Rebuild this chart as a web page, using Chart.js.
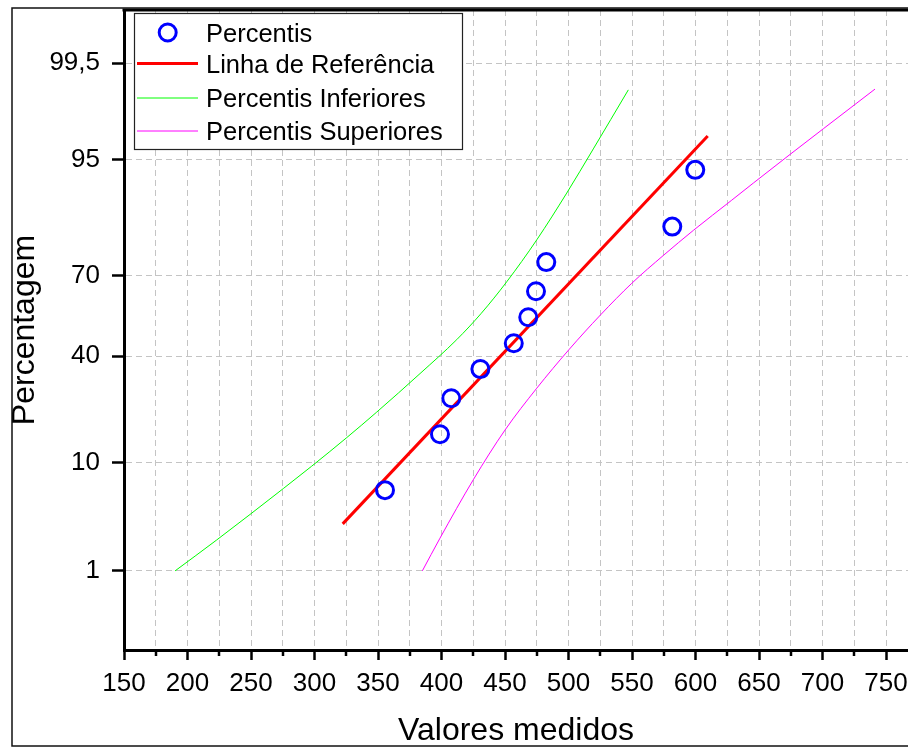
<!DOCTYPE html>
<html>
<head>
<meta charset="utf-8">
<title>Probabilidade normal</title>
<script src="https://cdn.jsdelivr.net/npm/chart.js@4/dist/chart.umd.min.js"></script>
<style>
  html, body { margin: 0; padding: 0; background: #fff; overflow: hidden; }
  canvas { display: block; }
</style>
</head>
<body>
<canvas id="c" width="908" height="747"></canvas>
<script>
// ---------------- data ----------------
const seriesLabels = ['Percentis', 'Linha de Referência', 'Percentis Inferiores', 'Percentis Superiores'];

const xMajorTicks = [150, 200, 250, 300, 350, 400, 450, 500, 550, 600, 650, 700, 750];
const xMinorTicks = [175, 225, 275, 325, 375, 425, 475, 525, 575, 625, 675, 725];
const yTickValues = [1, 10, 40, 70, 95, 99.5];
const yTickLabels = ['1', '10', '40', '70', '95', '99,5'];

const percentisX = [355.5, 398.8, 407.7, 430.6, 456.9, 468.3, 474.4, 482.5, 581.7, 599.8];
const percentisY = [6.1, 15.7, 25.5, 35.3, 44.9, 54.9, 64.6, 74.4, 84.1, 93.9];

const referenciaX = [322.2, 609.6];
const referenciaY = [3.06, 96.95];

const inferioresX = [190.2, 223.0, 275.4, 297.7, 325.4, 349.0, 383.1, 412.0, 431.3, 451.3, 475.0, 498.6, 519.5, 547.1];
const inferioresY = [1.0, 2.13, 6.28, 9.41, 14.94, 21.4, 33.7, 46.3, 56.4, 67.9, 80.8, 90.7, 95.98, 98.98];

const superioresX = [384.9, 398.8, 425.0, 450.0, 475.0, 500.2, 525.2, 549.8, 574.6, 598.3, 628.5, 645.5, 674.4, 700.6, 741.3];
const superioresY = [1.0, 2.22, 7.4, 16.7, 28.7, 42.4, 55.8, 67.4, 76.4, 83.2, 89.5, 92.2, 95.5, 97.4, 99.0];

// ---------------- probability (probit) axis ----------------
function probit(p) {
  const a = [-3.969683028665376e+01, 2.209460984245205e+02, -2.759285104469687e+02, 1.383577518672690e+02, -3.066479806614716e+01, 2.506628277459239e+00];
  const b = [-5.447609879822406e+01, 1.615858368580409e+02, -1.556989798598866e+02, 6.680131188771972e+01, -1.328068155288572e+01];
  const c = [-7.784894002430293e-03, -3.223964580411365e-01, -2.400758277161838e+00, -2.549732539343734e+00, 4.374664141464968e+00, 2.938163982698783e+00];
  const d = [7.784695709041462e-03, 3.224671290700398e-01, 2.445134137142996e+00, 3.754408661907416e+00];
  const pl = 0.02425, ph = 1 - pl;
  if (p < pl) {
    const q = Math.sqrt(-2 * Math.log(p));
    return (((((c[0]*q+c[1])*q+c[2])*q+c[3])*q+c[4])*q+c[5]) / ((((d[0]*q+d[1])*q+d[2])*q+d[3])*q+1);
  }
  if (p <= ph) {
    const q = p - 0.5, r = q * q;
    return (((((a[0]*r+a[1])*r+a[2])*r+a[3])*r+a[4])*r+a[5])*q / (((((b[0]*r+b[1])*r+b[2])*r+b[3])*r+b[4])*r+1);
  }
  const q = Math.sqrt(-2 * Math.log(1 - p));
  return -(((((c[0]*q+c[1])*q+c[2])*q+c[3])*q+c[4])*q+c[5]) / ((((d[0]*q+d[1])*q+d[2])*q+d[3])*q+1);
}
function normCdf(z) {
  const t = 1 / (1 + 0.2316419 * Math.abs(z));
  const y = t * (0.319381530 + t * (-0.356563782 + t * (1.781477937 + t * (-1.821255978 + t * 1.330274429))));
  const p = 1 - Math.exp(-z * z / 2) / Math.sqrt(2 * Math.PI) * y;
  return z >= 0 ? p : 1 - p;
}

class ProbitScale extends Chart.LinearScale {
  determineDataLimits() {
    this.min = this.options.min;
    this.max = this.options.max;
  }
  buildTicks() {
    this.start = this.min;
    this.end = this.max;
    return yTickValues.map(v => ({ value: v }));
  }
  configure() {
    super.configure();
    this._zMin = probit(this.min / 100);
    this._zMax = probit(this.max / 100);
  }
  getPixelForValue(value) {
    const z = probit(value / 100);
    return this.getPixelForDecimal((z - this._zMin) / (this._zMax - this._zMin));
  }
  getValueForPixel(pixel) {
    const dec = this.getDecimalForPixel(pixel);
    return normCdf(this._zMin + dec * (this._zMax - this._zMin)) * 100;
  }
}
ProbitScale.id = 'probit';
ProbitScale.defaults = {};
Chart.register(ProbitScale);

// ---------------- chart ----------------
const FONT = "'Liberation Sans', Arial, Helvetica, sans-serif";
const toPoints = (xs, ys) => xs.map((x, i) => ({ x: x, y: ys[i] }));

const decor = {
  id: 'decor',
  beforeDraw(chart) {
    const ctx = chart.ctx;
    ctx.save();
    ctx.fillStyle = '#fff';
    ctx.fillRect(0, 0, chart.width, chart.height);
    ctx.restore();
  },
  afterDraw(chart) {
    const ctx = chart.ctx, a = chart.chartArea, xs = chart.scales.x;
    ctx.save();
    // minor tick marks on x axis
    ctx.strokeStyle = '#000';
    ctx.lineWidth = 2.5;
    xs.ticks.forEach(t => {
      if (xMinorTicks.includes(t.value)) {
        const px = Math.round(xs.getPixelForValue(t.value));
        ctx.beginPath();
        ctx.moveTo(px, a.bottom);
        ctx.lineTo(px, a.bottom + 6);
        ctx.stroke();
      }
    });
    // top frame of the plot
    ctx.lineWidth = 3;
    ctx.beginPath();
    ctx.moveTo(a.left - 1.5, a.top);
    ctx.lineTo(a.right, a.top);
    ctx.stroke();
    // outer frame
    ctx.lineWidth = 1.5;
    ctx.strokeStyle = '#111';
    ctx.strokeRect(12, 8, chart.width + 20, 738);

    // legend
    const lx = 134, ly = 13, lw = 328, lh = 136;
    ctx.fillStyle = '#fff';
    ctx.fillRect(lx, ly, lw, lh);
    ctx.strokeStyle = '#222';
    ctx.lineWidth = 1.2;
    ctx.strokeRect(lx + 0.5, ly + 0.5, lw, lh);
    const symY = [32.5, 63.5, 98, 131];
    const baseY = [41.7, 73.3, 107.3, 140];
    chart.data.datasets.forEach((ds, i) => {
      ctx.save();
      if (i === 0) {
        ctx.strokeStyle = ds.pointBorderColor;
        ctx.lineWidth = ds.pointBorderWidth;
        ctx.beginPath();
        ctx.arc(167.7, symY[i], ds.pointRadius, 0, Math.PI * 2);
        ctx.stroke();
      } else {
        ctx.strokeStyle = ds.borderColor;
        ctx.lineWidth = ds.borderWidth;
        ctx.beginPath();
        ctx.moveTo(137, symY[i]);
        ctx.lineTo(198, symY[i]);
        ctx.stroke();
      }
      ctx.fillStyle = '#000';
      ctx.font = '25.5px ' + FONT;
      ctx.textBaseline = 'alphabetic';
      ctx.textAlign = 'left';
      ctx.fillText(ds.label, 206, baseY[i]);
      ctx.restore();
    });
    ctx.restore();
  }
};

new Chart(document.getElementById('c'), {
  type: 'scatter',
  data: {
    datasets: [
      {
        label: seriesLabels[0],
        data: toPoints(percentisX, percentisY),
        showLine: false,
        pointStyle: 'circle',
        pointRadius: 8.5,
        pointBorderWidth: 3,
        pointBorderColor: '#0000ff',
        pointBackgroundColor: 'rgba(0,0,0,0)'
      },
      {
        label: seriesLabels[1],
        data: toPoints(referenciaX, referenciaY),
        showLine: true,
        borderColor: '#ff0000',
        borderWidth: 3,
        pointRadius: 0
      },
      {
        label: seriesLabels[2],
        data: toPoints(inferioresX, inferioresY),
        showLine: true,
        borderColor: '#00ff00',
        borderWidth: 1,
        pointRadius: 0,
        cubicInterpolationMode: 'monotone'
      },
      {
        label: seriesLabels[3],
        data: toPoints(superioresX, superioresY),
        showLine: true,
        borderColor: '#ff00ff',
        borderWidth: 1,
        pointRadius: 0,
        cubicInterpolationMode: 'monotone'
      }
    ]
  },
  options: {
    responsive: false,
    animation: false,
    events: [],
    layout: { autoPadding: false, padding: { left: 9, top: 10, right: 0, bottom: 0 } },
    plugins: { legend: { display: false }, tooltip: { enabled: false } },
    scales: {
      x: {
        type: 'linear',
        position: 'bottom',
        min: 150,
        max: 767.3,
        afterBuildTicks: s => {
          s.ticks = xMajorTicks.concat(xMinorTicks).sort((p, q) => p - q).map(v => ({ value: v }));
        },
        afterFit: s => {
          s.height = 97;
          s.paddingLeft = 0; s.paddingRight = 0; s.paddingTop = 0; s.paddingBottom = 0;
        },
        grid: {
          color: '#c4c4c4',
          lineWidth: 1,
          drawTicks: true,
          tickLength: 10,
          tickWidth: 2.5,
          tickColor: c => (c.tick && xMajorTicks.includes(c.tick.value)) ? '#000' : 'rgba(0,0,0,0)'
        },
        border: { display: true, color: '#000', width: 3, dash: [6, 4] },
        ticks: {
          padding: 8,
          color: '#000',
          autoSkip: false,
          maxRotation: 0,
          font: { family: FONT, size: 26 },
          callback: v => xMajorTicks.includes(v) ? String(v) : ''
        },
        title: {
          display: true,
          text: 'Valores medidos',
          color: '#000',
          padding: 0,
          font: { family: FONT, size: 32, lineHeight: 1 }
        }
      },
      y: {
        type: 'probit',
        position: 'left',
        min: 0.1,
        max: 99.9,
        afterFit: s => {
          s.width = 115;
          s.paddingLeft = 0; s.paddingRight = 0; s.paddingTop = 0; s.paddingBottom = 0;
        },
        grid: {
          color: '#c4c4c4',
          lineWidth: 1,
          drawTicks: true,
          tickLength: 12,
          tickWidth: 2.5,
          tickColor: '#000'
        },
        border: { display: true, color: '#000', width: 3, dash: [6, 4] },
        ticks: {
          padding: 12,
          color: '#000',
          autoSkip: false,
          font: { family: FONT, size: 26 },
          callback: v => {
            const i = yTickValues.indexOf(v);
            return i >= 0 ? yTickLabels[i] : '';
          }
        },
        title: {
          display: true,
          text: 'Percentagem',
          color: '#000',
          padding: 0,
          font: { family: FONT, size: 32, lineHeight: 1 }
        }
      }
    }
  },
  plugins: [decor]
});
</script>
</body>
</html>
